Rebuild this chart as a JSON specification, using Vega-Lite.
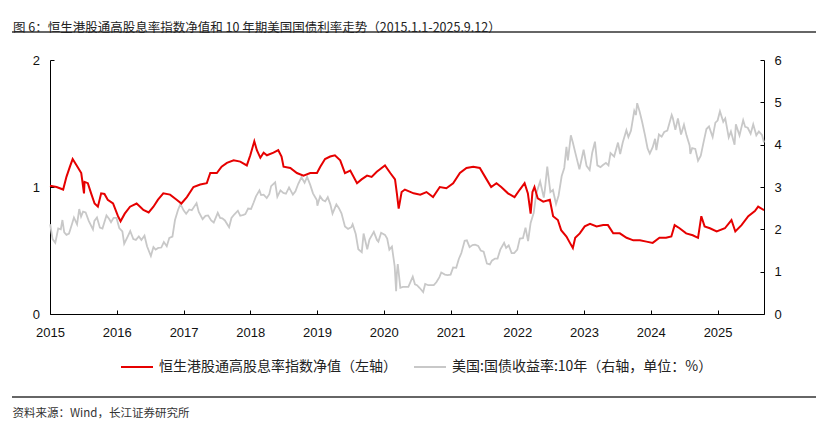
{
  "$schema": "https://vega.github.io/schema/vega-lite/v6.json",
  "width": 714,
  "height": 254,
  "autosize": "none",
  "padding": {"left": 50, "top": 60, "right": 62, "bottom": 110},
  "background": "white",
  "title": {
    "text": "图 6：恒生港股通高股息率指数净值和 10 年期美国国债利率走势（2015.1.1-2025.9.12）",
    "anchor": "start",
    "frame": "group",
    "dx": -37,
    "offset": -3,
    "fontSize": 12.5,
    "font": "Noto Sans CJK SC",
    "fontWeight": "normal",
    "color": "#222222"
  },
  "datasets": {
    "hs": [
      {"d": "2015-01-01", "v": 1.01}, {"d": "2015-02-06", "v": 1.0}, {"d": "2015-03-14", "v": 0.98},
      {"d": "2015-04-01", "v": 1.08}, {"d": "2015-04-20", "v": 1.16}, {"d": "2015-05-05", "v": 1.22},
      {"d": "2015-05-27", "v": 1.17}, {"d": "2015-06-21", "v": 1.11}, {"d": "2015-07-06", "v": 0.95},
      {"d": "2015-07-09", "v": 1.04}, {"d": "2015-07-27", "v": 1.03}, {"d": "2015-08-14", "v": 0.95},
      {"d": "2015-09-02", "v": 0.87}, {"d": "2015-09-20", "v": 0.845}, {"d": "2015-10-08", "v": 0.95},
      {"d": "2015-10-26", "v": 0.945}, {"d": "2015-11-13", "v": 0.9}, {"d": "2015-12-12", "v": 0.87},
      {"d": "2016-01-08", "v": 0.77}, {"d": "2016-01-22", "v": 0.73}, {"d": "2016-02-14", "v": 0.79},
      {"d": "2016-03-14", "v": 0.845}, {"d": "2016-04-19", "v": 0.87}, {"d": "2016-05-08", "v": 0.845},
      {"d": "2016-05-26", "v": 0.82}, {"d": "2016-06-24", "v": 0.8}, {"d": "2016-07-20", "v": 0.845},
      {"d": "2016-08-14", "v": 0.9}, {"d": "2016-09-12", "v": 0.95}, {"d": "2016-10-19", "v": 0.94},
      {"d": "2016-11-24", "v": 0.9}, {"d": "2016-12-20", "v": 0.87}, {"d": "2017-01-19", "v": 0.92},
      {"d": "2017-02-24", "v": 1.0}, {"d": "2017-04-02", "v": 1.02}, {"d": "2017-05-08", "v": 1.03},
      {"d": "2017-05-27", "v": 1.11}, {"d": "2017-07-02", "v": 1.11}, {"d": "2017-07-28", "v": 1.16},
      {"d": "2017-08-26", "v": 1.19}, {"d": "2017-10-02", "v": 1.21}, {"d": "2017-11-07", "v": 1.2},
      {"d": "2017-12-13", "v": 1.17}, {"d": "2018-01-01", "v": 1.25}, {"d": "2018-01-23", "v": 1.36},
      {"d": "2018-02-06", "v": 1.29}, {"d": "2018-02-25", "v": 1.23}, {"d": "2018-03-15", "v": 1.27},
      {"d": "2018-04-02", "v": 1.25}, {"d": "2018-05-08", "v": 1.27}, {"d": "2018-06-03", "v": 1.29},
      {"d": "2018-06-21", "v": 1.24}, {"d": "2018-07-02", "v": 1.16}, {"d": "2018-08-08", "v": 1.15},
      {"d": "2018-09-13", "v": 1.11}, {"d": "2018-10-19", "v": 1.09}, {"d": "2018-11-25", "v": 1.11},
      {"d": "2019-01-01", "v": 1.11}, {"d": "2019-01-19", "v": 1.16}, {"d": "2019-02-14", "v": 1.22},
      {"d": "2019-03-14", "v": 1.24}, {"d": "2019-04-09", "v": 1.25}, {"d": "2019-05-08", "v": 1.21},
      {"d": "2019-06-03", "v": 1.11}, {"d": "2019-07-02", "v": 1.13}, {"d": "2019-08-08", "v": 1.03},
      {"d": "2019-09-02", "v": 1.06}, {"d": "2019-10-02", "v": 1.09}, {"d": "2019-10-27", "v": 1.08},
      {"d": "2019-11-24", "v": 1.12}, {"d": "2020-01-08", "v": 1.17}, {"d": "2020-02-06", "v": 1.11},
      {"d": "2020-03-03", "v": 1.06}, {"d": "2020-03-13", "v": 0.95}, {"d": "2020-03-23", "v": 0.83},
      {"d": "2020-04-08", "v": 0.96}, {"d": "2020-04-26", "v": 0.98}, {"d": "2020-06-13", "v": 0.95},
      {"d": "2020-07-19", "v": 0.94}, {"d": "2020-08-22", "v": 0.96}, {"d": "2020-09-27", "v": 0.92},
      {"d": "2020-11-03", "v": 1.0}, {"d": "2020-12-09", "v": 0.99}, {"d": "2021-01-15", "v": 1.03},
      {"d": "2021-02-21", "v": 1.11}, {"d": "2021-03-29", "v": 1.15}, {"d": "2021-05-05", "v": 1.16},
      {"d": "2021-06-10", "v": 1.15}, {"d": "2021-07-17", "v": 1.06}, {"d": "2021-08-11", "v": 1.0},
      {"d": "2021-09-09", "v": 1.03}, {"d": "2021-10-05", "v": 1.0}, {"d": "2021-11-11", "v": 0.95},
      {"d": "2021-12-17", "v": 0.92}, {"d": "2022-01-15", "v": 0.98}, {"d": "2022-02-10", "v": 1.03},
      {"d": "2022-02-28", "v": 0.95}, {"d": "2022-03-15", "v": 0.79}, {"d": "2022-03-25", "v": 0.96},
      {"d": "2022-04-05", "v": 1.0}, {"d": "2022-04-23", "v": 0.91}, {"d": "2022-05-23", "v": 0.885},
      {"d": "2022-06-28", "v": 0.9}, {"d": "2022-07-16", "v": 0.77}, {"d": "2022-08-11", "v": 0.74},
      {"d": "2022-08-29", "v": 0.66}, {"d": "2022-09-27", "v": 0.61}, {"d": "2022-10-16", "v": 0.56},
      {"d": "2022-11-01", "v": 0.52}, {"d": "2022-11-14", "v": 0.6}, {"d": "2022-12-09", "v": 0.635},
      {"d": "2023-01-05", "v": 0.69}, {"d": "2023-02-03", "v": 0.71}, {"d": "2023-03-11", "v": 0.69},
      {"d": "2023-04-16", "v": 0.7}, {"d": "2023-05-12", "v": 0.7}, {"d": "2023-06-10", "v": 0.635},
      {"d": "2023-07-16", "v": 0.635}, {"d": "2023-08-22", "v": 0.6}, {"d": "2023-09-28", "v": 0.58},
      {"d": "2023-11-03", "v": 0.58}, {"d": "2023-12-09", "v": 0.57}, {"d": "2024-01-12", "v": 0.56},
      {"d": "2024-02-18", "v": 0.6}, {"d": "2024-03-25", "v": 0.6}, {"d": "2024-04-23", "v": 0.61},
      {"d": "2024-05-11", "v": 0.7}, {"d": "2024-06-07", "v": 0.675}, {"d": "2024-07-13", "v": 0.635},
      {"d": "2024-08-18", "v": 0.62}, {"d": "2024-09-16", "v": 0.6}, {"d": "2024-10-04", "v": 0.77},
      {"d": "2024-10-22", "v": 0.69}, {"d": "2024-11-20", "v": 0.675}, {"d": "2024-12-27", "v": 0.65},
      {"d": "2025-02-10", "v": 0.675}, {"d": "2025-03-18", "v": 0.74}, {"d": "2025-04-08", "v": 0.65},
      {"d": "2025-05-12", "v": 0.7}, {"d": "2025-06-18", "v": 0.77}, {"d": "2025-07-24", "v": 0.81},
      {"d": "2025-08-11", "v": 0.845}, {"d": "2025-09-09", "v": 0.82}, {"d": "2025-09-12", "v": 0.82}
    ],
    "us": [
      {"d": "2015-01-02", "v": 2.12}, {"d": "2015-01-15", "v": 1.77}, {"d": "2015-01-30", "v": 1.68},
      {"d": "2015-02-15", "v": 2.02}, {"d": "2015-03-01", "v": 2.0}, {"d": "2015-03-10", "v": 2.22},
      {"d": "2015-03-20", "v": 1.93}, {"d": "2015-04-01", "v": 1.87}, {"d": "2015-04-15", "v": 1.9},
      {"d": "2015-05-01", "v": 2.12}, {"d": "2015-05-12", "v": 2.28}, {"d": "2015-05-29", "v": 2.12},
      {"d": "2015-06-10", "v": 2.48}, {"d": "2015-06-20", "v": 2.3}, {"d": "2015-07-01", "v": 2.42},
      {"d": "2015-07-15", "v": 2.4}, {"d": "2015-08-01", "v": 2.2}, {"d": "2015-08-24", "v": 2.0},
      {"d": "2015-09-01", "v": 2.2}, {"d": "2015-09-15", "v": 2.28}, {"d": "2015-10-01", "v": 2.04},
      {"d": "2015-10-15", "v": 2.02}, {"d": "2015-11-06", "v": 2.33}, {"d": "2015-11-20", "v": 2.25},
      {"d": "2015-12-01", "v": 2.17}, {"d": "2015-12-15", "v": 2.27}, {"d": "2015-12-31", "v": 2.27},
      {"d": "2016-01-15", "v": 2.03}, {"d": "2016-02-01", "v": 1.95}, {"d": "2016-02-11", "v": 1.66},
      {"d": "2016-03-01", "v": 1.83}, {"d": "2016-03-15", "v": 1.96}, {"d": "2016-04-01", "v": 1.77},
      {"d": "2016-04-15", "v": 1.75}, {"d": "2016-05-01", "v": 1.83}, {"d": "2016-05-15", "v": 1.75},
      {"d": "2016-06-01", "v": 1.85}, {"d": "2016-06-15", "v": 1.6}, {"d": "2016-07-06", "v": 1.37},
      {"d": "2016-07-20", "v": 1.58}, {"d": "2016-08-01", "v": 1.52}, {"d": "2016-08-15", "v": 1.56},
      {"d": "2016-09-01", "v": 1.57}, {"d": "2016-09-15", "v": 1.7}, {"d": "2016-10-01", "v": 1.6},
      {"d": "2016-10-15", "v": 1.8}, {"d": "2016-11-01", "v": 1.83}, {"d": "2016-11-15", "v": 2.22},
      {"d": "2016-12-01", "v": 2.45}, {"d": "2016-12-15", "v": 2.6}, {"d": "2017-01-01", "v": 2.45},
      {"d": "2017-01-15", "v": 2.37}, {"d": "2017-02-01", "v": 2.47}, {"d": "2017-02-15", "v": 2.45},
      {"d": "2017-03-13", "v": 2.62}, {"d": "2017-03-25", "v": 2.41}, {"d": "2017-04-15", "v": 2.24},
      {"d": "2017-05-01", "v": 2.32}, {"d": "2017-05-15", "v": 2.33}, {"d": "2017-06-01", "v": 2.21},
      {"d": "2017-06-15", "v": 2.16}, {"d": "2017-07-07", "v": 2.39}, {"d": "2017-07-20", "v": 2.27},
      {"d": "2017-08-01", "v": 2.26}, {"d": "2017-08-15", "v": 2.21}, {"d": "2017-09-07", "v": 2.05},
      {"d": "2017-09-20", "v": 2.27}, {"d": "2017-10-05", "v": 2.35}, {"d": "2017-10-25", "v": 2.44},
      {"d": "2017-11-07", "v": 2.32}, {"d": "2017-11-25", "v": 2.34}, {"d": "2017-12-05", "v": 2.36},
      {"d": "2017-12-20", "v": 2.49}, {"d": "2018-01-05", "v": 2.48}, {"d": "2018-01-20", "v": 2.64},
      {"d": "2018-02-01", "v": 2.78}, {"d": "2018-02-20", "v": 2.92}, {"d": "2018-03-01", "v": 2.81},
      {"d": "2018-03-15", "v": 2.82}, {"d": "2018-04-01", "v": 2.74}, {"d": "2018-04-15", "v": 2.83},
      {"d": "2018-04-25", "v": 3.02}, {"d": "2018-05-17", "v": 3.11}, {"d": "2018-05-29", "v": 2.77},
      {"d": "2018-06-15", "v": 2.92}, {"d": "2018-07-01", "v": 2.86}, {"d": "2018-07-15", "v": 2.84},
      {"d": "2018-08-01", "v": 2.99}, {"d": "2018-08-22", "v": 2.82}, {"d": "2018-09-05", "v": 2.9},
      {"d": "2018-09-20", "v": 3.07}, {"d": "2018-10-08", "v": 3.23}, {"d": "2018-10-25", "v": 3.1},
      {"d": "2018-11-08", "v": 3.24}, {"d": "2018-11-25", "v": 3.05}, {"d": "2018-12-10", "v": 2.85},
      {"d": "2018-12-31", "v": 2.69}, {"d": "2019-01-03", "v": 2.56}, {"d": "2019-01-18", "v": 2.78},
      {"d": "2019-02-01", "v": 2.69}, {"d": "2019-02-15", "v": 2.66}, {"d": "2019-03-01", "v": 2.76},
      {"d": "2019-03-15", "v": 2.59}, {"d": "2019-03-27", "v": 2.37}, {"d": "2019-04-17", "v": 2.59},
      {"d": "2019-05-01", "v": 2.5}, {"d": "2019-05-15", "v": 2.38}, {"d": "2019-06-03", "v": 2.07},
      {"d": "2019-06-20", "v": 2.01}, {"d": "2019-07-08", "v": 2.05}, {"d": "2019-07-15", "v": 2.12},
      {"d": "2019-08-01", "v": 1.89}, {"d": "2019-08-15", "v": 1.53}, {"d": "2019-09-03", "v": 1.46},
      {"d": "2019-09-13", "v": 1.9}, {"d": "2019-10-03", "v": 1.53}, {"d": "2019-10-15", "v": 1.76},
      {"d": "2019-11-08", "v": 1.94}, {"d": "2019-11-25", "v": 1.75}, {"d": "2019-12-03", "v": 1.71},
      {"d": "2019-12-18", "v": 1.92}, {"d": "2020-01-08", "v": 1.87}, {"d": "2020-01-20", "v": 1.78},
      {"d": "2020-02-01", "v": 1.52}, {"d": "2020-02-15", "v": 1.59}, {"d": "2020-03-01", "v": 1.13},
      {"d": "2020-03-09", "v": 0.54}, {"d": "2020-03-13", "v": 0.96}, {"d": "2020-03-18", "v": 1.18},
      {"d": "2020-04-01", "v": 0.62}, {"d": "2020-04-15", "v": 0.64}, {"d": "2020-05-01", "v": 0.64},
      {"d": "2020-05-15", "v": 0.64}, {"d": "2020-06-08", "v": 0.88}, {"d": "2020-06-20", "v": 0.7},
      {"d": "2020-07-01", "v": 0.68}, {"d": "2020-07-15", "v": 0.62}, {"d": "2020-08-04", "v": 0.52},
      {"d": "2020-08-15", "v": 0.71}, {"d": "2020-09-01", "v": 0.68}, {"d": "2020-09-15", "v": 0.68},
      {"d": "2020-10-01", "v": 0.68}, {"d": "2020-10-15", "v": 0.75}, {"d": "2020-11-01", "v": 0.87},
      {"d": "2020-11-11", "v": 0.98}, {"d": "2020-12-01", "v": 0.93}, {"d": "2020-12-15", "v": 0.92},
      {"d": "2021-01-01", "v": 0.93}, {"d": "2021-01-15", "v": 1.1}, {"d": "2021-02-01", "v": 1.09},
      {"d": "2021-02-15", "v": 1.3}, {"d": "2021-03-01", "v": 1.44}, {"d": "2021-03-19", "v": 1.73},
      {"d": "2021-03-31", "v": 1.74}, {"d": "2021-04-15", "v": 1.58}, {"d": "2021-05-01", "v": 1.63},
      {"d": "2021-05-15", "v": 1.64}, {"d": "2021-06-01", "v": 1.61}, {"d": "2021-06-15", "v": 1.5},
      {"d": "2021-07-01", "v": 1.47}, {"d": "2021-07-19", "v": 1.19}, {"d": "2021-08-04", "v": 1.17},
      {"d": "2021-08-15", "v": 1.26}, {"d": "2021-09-01", "v": 1.31}, {"d": "2021-09-15", "v": 1.31},
      {"d": "2021-09-30", "v": 1.52}, {"d": "2021-10-21", "v": 1.68}, {"d": "2021-11-01", "v": 1.56},
      {"d": "2021-11-15", "v": 1.62}, {"d": "2021-12-01", "v": 1.44}, {"d": "2021-12-15", "v": 1.44},
      {"d": "2022-01-01", "v": 1.52}, {"d": "2022-01-15", "v": 1.78}, {"d": "2022-02-01", "v": 1.79},
      {"d": "2022-02-15", "v": 2.04}, {"d": "2022-03-01", "v": 1.72}, {"d": "2022-03-15", "v": 2.15},
      {"d": "2022-04-01", "v": 2.39}, {"d": "2022-04-15", "v": 2.85}, {"d": "2022-05-06", "v": 3.13},
      {"d": "2022-05-26", "v": 2.75}, {"d": "2022-06-01", "v": 2.94}, {"d": "2022-06-14", "v": 3.48},
      {"d": "2022-07-01", "v": 2.88}, {"d": "2022-07-15", "v": 2.93}, {"d": "2022-08-01", "v": 2.6},
      {"d": "2022-08-15", "v": 2.8}, {"d": "2022-09-01", "v": 3.26}, {"d": "2022-09-15", "v": 3.45},
      {"d": "2022-09-27", "v": 3.95}, {"d": "2022-10-05", "v": 3.63}, {"d": "2022-10-21", "v": 4.22},
      {"d": "2022-11-01", "v": 4.05}, {"d": "2022-11-15", "v": 3.8}, {"d": "2022-12-07", "v": 3.42},
      {"d": "2022-12-30", "v": 3.88}, {"d": "2023-01-15", "v": 3.5}, {"d": "2023-02-01", "v": 3.4},
      {"d": "2023-02-15", "v": 3.81}, {"d": "2023-03-02", "v": 4.07}, {"d": "2023-03-15", "v": 3.51},
      {"d": "2023-04-01", "v": 3.47}, {"d": "2023-04-15", "v": 3.52}, {"d": "2023-05-01", "v": 3.57},
      {"d": "2023-05-15", "v": 3.51}, {"d": "2023-05-26", "v": 3.8}, {"d": "2023-06-15", "v": 3.72},
      {"d": "2023-07-06", "v": 4.05}, {"d": "2023-07-18", "v": 3.78}, {"d": "2023-08-01", "v": 4.05},
      {"d": "2023-08-21", "v": 4.34}, {"d": "2023-09-01", "v": 4.18}, {"d": "2023-09-15", "v": 4.33},
      {"d": "2023-10-03", "v": 4.8}, {"d": "2023-10-12", "v": 4.7}, {"d": "2023-10-19", "v": 4.98},
      {"d": "2023-11-01", "v": 4.79}, {"d": "2023-11-15", "v": 4.54}, {"d": "2023-12-01", "v": 4.22},
      {"d": "2023-12-15", "v": 3.91}, {"d": "2023-12-27", "v": 3.79}, {"d": "2024-01-12", "v": 3.94},
      {"d": "2024-01-25", "v": 4.14}, {"d": "2024-02-01", "v": 3.87}, {"d": "2024-02-15", "v": 4.24},
      {"d": "2024-03-01", "v": 4.19}, {"d": "2024-03-15", "v": 4.3}, {"d": "2024-04-01", "v": 4.33},
      {"d": "2024-04-25", "v": 4.7}, {"d": "2024-05-01", "v": 4.63}, {"d": "2024-05-15", "v": 4.35},
      {"d": "2024-05-29", "v": 4.62}, {"d": "2024-06-15", "v": 4.24}, {"d": "2024-07-01", "v": 4.47},
      {"d": "2024-07-15", "v": 4.22}, {"d": "2024-08-01", "v": 3.98}, {"d": "2024-08-05", "v": 3.78},
      {"d": "2024-08-15", "v": 3.92}, {"d": "2024-09-01", "v": 3.9}, {"d": "2024-09-16", "v": 3.62},
      {"d": "2024-10-01", "v": 3.74}, {"d": "2024-10-15", "v": 4.03}, {"d": "2024-11-01", "v": 4.37},
      {"d": "2024-11-15", "v": 4.43}, {"d": "2024-12-05", "v": 4.18}, {"d": "2024-12-20", "v": 4.52},
      {"d": "2025-01-01", "v": 4.57}, {"d": "2025-01-14", "v": 4.79}, {"d": "2025-02-01", "v": 4.54},
      {"d": "2025-02-12", "v": 4.62}, {"d": "2025-03-03", "v": 4.17}, {"d": "2025-03-15", "v": 4.31},
      {"d": "2025-04-04", "v": 4.0}, {"d": "2025-04-11", "v": 4.48}, {"d": "2025-05-01", "v": 4.22},
      {"d": "2025-05-21", "v": 4.58}, {"d": "2025-06-01", "v": 4.42}, {"d": "2025-06-15", "v": 4.4},
      {"d": "2025-07-01", "v": 4.26}, {"d": "2025-07-15", "v": 4.48}, {"d": "2025-08-01", "v": 4.22},
      {"d": "2025-08-15", "v": 4.31}, {"d": "2025-09-01", "v": 4.23}, {"d": "2025-09-12", "v": 4.05}
    ]
  },
  "layer": [
    {
      "data": {"name": "us"},
      "mark": {"type": "line", "strokeWidth": 1.8, "interpolate": "linear"},
      "encoding": {
        "x": {
          "field": "d", "type": "temporal",
          "scale": {"domain": ["2015-01-01", "2025-09-12"]},
          "axis": null
        },
        "y": {
          "field": "v", "type": "quantitative",
          "scale": {"domain": [0, 6], "nice": false},
          "axis": {
            "orient": "right", "values": [0, 1, 2, 3, 4, 5, 6], "title": null, "grid": false,
            "domain": false, "offset": -4, "ticks": true, "tickSize": 4, "tickColor": "#000000", "tickWidth": 1,
            "labelPadding": 10, "labelFont": "Liberation Sans", "labelFontSize": 13, "labelColor": "#111111",
            "labelOverlap": false
          }
        },
        "color": {"datum": "美国:国债收益率:10年（右轴，单位：%）", "type": "nominal"}
      }
    },
    {
      "data": {"name": "hs"},
      "mark": {"type": "line", "strokeWidth": 2, "interpolate": "linear"},
      "encoding": {
        "x": {
          "field": "d", "type": "temporal",
          "scale": {"domain": ["2015-01-01", "2025-09-12"]},
          "axis": {
            "orient": "bottom", "offset": -4, "tickCount": {"interval": "year", "step": 1}, "format": "%Y",
            "domain": false, "ticks": true, "tickSize": 4, "tickColor": "#000000", "tickWidth": 1,
            "grid": false, "labelPadding": 12, "labelFont": "Liberation Sans", "labelFontSize": 13,
            "labelColor": "#111111", "labelFlush": false, "labelOverlap": false,
            "title": "资料来源：Wind，长江证券研究所", "titleX": -38, "titleY": 106,
            "titleAlign": "left", "titleAnchor": "start", "titleBaseline": "alphabetic",
            "titleFont": "Noto Sans CJK SC", "titleFontSize": 11.5, "titleFontWeight": "normal",
            "titleColor": "#333333"
          }
        },
        "y": {
          "field": "v", "type": "quantitative",
          "scale": {"domain": [0, 2], "nice": false},
          "axis": {
            "orient": "left", "values": [0, 1, 2], "format": ".0f", "title": null, "grid": false,
            "domain": false, "offset": -4, "ticks": true, "tickSize": 4, "tickColor": "#000000", "tickWidth": 1,
            "labelPadding": 10.5, "labelFont": "Liberation Sans", "labelFontSize": 13, "labelColor": "#111111",
            "labelOverlap": false
          }
        },
        "color": {
          "datum": "恒生港股通高股息率指数净值（左轴）", "type": "nominal",
          "scale": {
            "domain": ["恒生港股通高股息率指数净值（左轴）", "美国:国债收益率:10年（右轴，单位：%）"],
            "range": ["#e60000", "#c8c8c8"]
          },
          "legend": {
            "orient": "none", "legendX": 70, "legendY": 290, "direction": "horizontal",
            "title": null, "symbolType": "stroke", "symbolSize": 1024, "symbolStrokeWidth": 2,
            "labelFont": "Noto Sans CJK SC", "labelFontSize": 14, "labelColor": "#222222",
            "labelLimit": 400, "columnPadding": 13, "labelOffset": 5
          }
        }
      }
    },
    {
      "data": {"values": [{}]},
      "mark": {"type": "rule", "color": "#333333", "strokeWidth": 1.5},
      "encoding": {"x": {"value": -38}, "x2": {"value": 766}, "y": {"value": -28}}
    },
    {
      "data": {"values": [{}]},
      "mark": {"type": "rule", "color": "#333333", "strokeWidth": 1.5},
      "encoding": {"x": {"value": -38}, "x2": {"value": 766}, "y": {"value": 337}}
    }
  ],
  "resolve": {"scale": {"y": "independent"}, "axis": {"x": "independent"}},
  "config": {
    "view": {"stroke": "#000000", "strokeWidth": 1, "strokeDash": [0, 714, 1222, 0]},
    "font": "Liberation Sans"
  }
}
